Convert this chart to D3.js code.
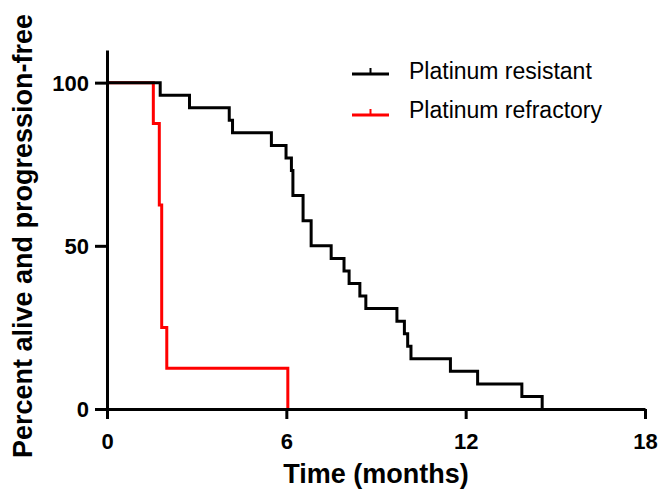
<html>
<head>
	<meta charset="utf-8">
	<title>platinum km</title>
	<script src="https://cdn.jsdelivr.net/npm/d3@7"></script>
	<style>
	body, html{
		margin: 0;
		padding: 0;
		background: #fff;
		overflow: hidden;
	}
	svg text{
		font-family: 'Liberation Sans', Arial, Helvetica, sans-serif;
		fill: #000;
	}
	.axis path, .axis line{
		stroke: #000;
		stroke-width: 3px;
	}
	.axis text{
		font-size: 22px;
		font-weight: bold;
	}
	</style>
</head>
<body>
<svg id="chart" width="658" height="492"></svg>

<script type="text/javascript">
	// time in months, percent alive and progression-free
	var resistantTimes = [0, 1.78, 2.76, 4.09, 4.2, 5.5, 5.99, 6.17, 6.22, 6.56, 6.83, 7.5, 7.93, 8.1, 8.46, 8.66, 9.7, 9.95, 10.06, 10.17, 11.49, 12.4, 13.88, 14.56];
	var resistantSurv = [100, 96.15, 92.31, 88.46, 84.62, 80.77, 76.92, 73.08, 65.38, 57.69, 50.0, 46.15, 42.31, 38.46, 34.62, 30.77, 26.92, 23.08, 19.23, 15.38, 11.54, 7.69, 3.85, 0];
	var refractoryTimes = [0, 1.55, 1.75, 1.83, 2.0, 6.05];
	var refractorySurv = [100, 87.5, 62.5, 25, 12.5, 0];
	var xTicks = [0, 6, 12, 18];
	var yTicks = [0, 50, 100];
	var seriesNames = ['Platinum resistant', 'Platinum refractory'];
	var seriesColors = ['#000000', '#ff0000'];

	var svg = d3.select('#chart'),
		x = d3.scaleLinear().domain([0, 18]).range([107, 645]),
		y = d3.scaleLinear().domain([0, 110]).range([409, 50]);

	function toPoints(times, surv) {
		var pts = [];
		for (var i = 0; i < times.length; i += 1) {
			pts.push({t: times[i], s: surv[i]});
		}
		return pts;
	}

	var line = d3.line()
		.x(function(d){ return x(d.t); })
		.y(function(d){ return y(d.s); })
		.curve(d3.curveStepAfter);

	var series = [toPoints(resistantTimes, resistantSurv), toPoints(refractoryTimes, refractorySurv)];

	// refractory under resistant, like the original
	for (var k = series.length - 1; k >= 0; k -= 1) {
		svg.append('path')
			.attr('d', line(series[k]))
			.attr('fill', 'none')
			.attr('stroke', seriesColors[k])
			.attr('stroke-width', 3);
	}

	var xAxis = svg.append('g')
		.attr('class', 'axis')
		.attr('transform', 'translate(0,' + y(0) + ')')
		.call(d3.axisBottom(x).tickValues(xTicks).tickSize(10).tickSizeOuter(0).tickPadding(14));

	var yAxis = svg.append('g')
		.attr('class', 'axis')
		.attr('transform', 'translate(' + x(0) + ',0)')
		.call(d3.axisLeft(y).tickValues(yTicks).tickSize(12).tickSizeOuter(0).tickPadding(6));
	yAxis.selectAll('text').attr('dy', '0.36em');

	svg.append('text')
		.attr('x', 376)
		.attr('y', 483)
		.attr('text-anchor', 'middle')
		.style('font-size', '27px')
		.style('font-weight', 'bold')
		.text('Time (months)');

	svg.append('text')
		.attr('transform', 'translate(32,236) rotate(-90)')
		.attr('text-anchor', 'middle')
		.style('font-size', '27px')
		.style('font-weight', 'bold')
		.text('Percent alive and progression-free');

	// legend
	var legendY = [74, 115];
	for (var j = 0; j < seriesNames.length; j += 1) {
		var g = svg.append('g').attr('transform', 'translate(0,' + legendY[j] + ')');
		g.append('line')
			.attr('x1', 352).attr('x2', 389)
			.attr('y1', 0).attr('y2', 0)
			.attr('stroke', seriesColors[j])
			.attr('stroke-width', 3);
		g.append('line')
			.attr('x1', 370.5).attr('x2', 370.5)
			.attr('y1', 0).attr('y2', -6)
			.attr('stroke', seriesColors[j])
			.attr('stroke-width', 2);
		g.append('text')
			.attr('x', 409)
			.attr('y', j == 0 ? 5 : 3)
			.style('font-size', '23px')
			.text(seriesNames[j]);
	}
</script>
</body>
</html>
